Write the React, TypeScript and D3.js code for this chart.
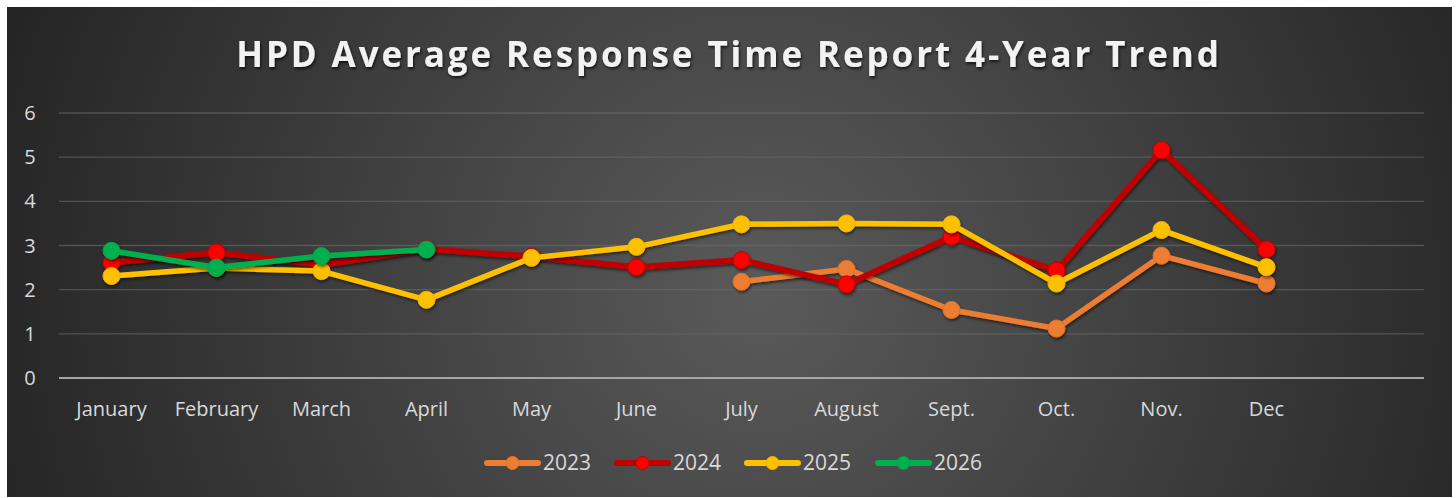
import React from 'react';
import * as d3 from 'd3';

const months = ['January', 'February', 'March', 'April', 'May', 'June', 'July', 'August', 'Sept.', 'Oct.', 'Nov.', 'Dec', ''];
const yTicks = [0, 1, 2, 3, 4, 5, 6];
const years = ['2023', '2024', '2025', '2026'];
const v2023: (number | null)[] = [null, null, null, null, null, null, 2.18, 2.47, 1.54, 1.12, 2.77, 2.14];
const v2024: (number | null)[] = [2.61, 2.84, 2.56, 2.92, 2.75, 2.51, 2.67, 2.12, 3.2, 2.43, 5.16, 2.91];
const v2025: (number | null)[] = [2.31, 2.49, 2.42, 1.77, 2.72, 2.97, 3.48, 3.5, 3.48, 2.14, 3.35, 2.51];
const v2026: (number | null)[] = [2.88, 2.5, 2.76, 2.91, null, null, null, null, null, null, null, null];

const seriesValues = [v2023, v2024, v2025, v2026];
const lineColors = ['#ED7D31', '#C00000', '#FFC000', '#00B050'];
const markerFill = ['#ED7D31', '#FF0000', '#FFC000', '#00B050'];
const markerStroke = ['#E07228', '#C00000', '#F0B400', '#00A347'];

export default function App() {
  const W = 1456, H = 498;
  const left = 59, right = 1424, top = 113, bottom = 378;
  const x = d3.scaleBand<string>().domain(months).range([left, right]).padding(0);
  const cx = (i: number) => (x(months[i]) as number) + x.bandwidth() / 2;
  const y = d3.scaleLinear().domain([0, 6]).range([bottom, top]);
  const line = d3.line<number | null>()
    .defined((d) => d !== null)
    .x((_, i) => cx(i))
    .y((d) => y(d as number));

  const legendX = [484, 614, 744, 875];
  const font = '"Open Sans", "DejaVu Sans", sans-serif';

  return (
    <svg width={W} height={H} style={{ position: 'absolute', left: 0, top: 0 }}>
      <defs>
        <radialGradient id="bg" gradientUnits="userSpaceOnUse" cx={760} cy={290} r={820}>
          <stop offset="0" stopColor="#5a5a5a" />
          <stop offset="1" stopColor="#232323" />
        </radialGradient>
        <filter id="sh" x="-20%" y="-20%" width="140%" height="160%">
          <feDropShadow dx="1" dy="2" stdDeviation="1.8" floodColor="#000" floodOpacity="0.55" />
        </filter>
        <filter id="tsh" x="-5%" y="-20%" width="110%" height="160%">
          <feDropShadow dx="1" dy="2" stdDeviation="1.5" floodColor="#000" floodOpacity="0.7" />
        </filter>
      </defs>
      <rect x={0} y={0} width={W} height={H} fill="#ffffff" />
      <rect x={7} y={7} width={1445} height={490} fill="url(#bg)" />
      <text x={729} y={67} textAnchor="middle" fontFamily={font} fontWeight={700} fontSize={35}
        letterSpacing={2.9} fill="#F2F2F2" filter="url(#tsh)">
        HPD Average Response Time Report 4-Year Trend
      </text>
      {yTicks.map((t) => (
        <g key={t}>
          {t > 0 && <line x1={left} x2={right} y1={y(t)} y2={y(t)} stroke="#6a6a6a" strokeOpacity={0.6} strokeWidth={1.3} />}
          <text x={30} y={y(t)} dy="0.35em" textAnchor="middle" fontFamily={font} fontSize={20} fill="#D9D9D9">{t}</text>
        </g>
      ))}
      <line x1={left} x2={right} y1={y(0)} y2={y(0)} stroke="#A6A6A6" strokeWidth={2} />
      {months.map((m, i) => m && (
        <text key={m} x={cx(i)} y={409} dy="0.35em" textAnchor="middle" fontFamily={font} fontSize={20} fill="#D9D9D9">{m}</text>
      ))}
      {seriesValues.map((vals, s) => (
        <g key={years[s]} filter="url(#sh)">
          <path d={line(vals) || ''} fill="none" stroke={lineColors[s]} strokeWidth={s === 1 ? 6 : 5.5} strokeLinejoin="round" strokeLinecap="round" />
          {vals.map((v, i) => v !== null && (
            <circle key={i} cx={cx(i)} cy={y(v)} r={8.5} fill={markerFill[s]} stroke={markerStroke[s]} strokeWidth={1} />
          ))}
        </g>
      ))}
      {years.map((yr, s) => (
        <g key={yr}>
          <line x1={legendX[s] + 3} x2={legendX[s] + 54} y1={463} y2={463} stroke={lineColors[s]} strokeWidth={6} strokeLinecap="round" />
          <circle cx={legendX[s] + 28.5} cy={463} r={6.5} fill={markerFill[s]} stroke={markerStroke[s]} strokeWidth={1} />
          <text x={legendX[s] + 59} y={463} dy="0.35em" fontFamily={font} fontSize={21} fill="#D9D9D9">{yr}</text>
        </g>
      ))}
    </svg>
  );
}
